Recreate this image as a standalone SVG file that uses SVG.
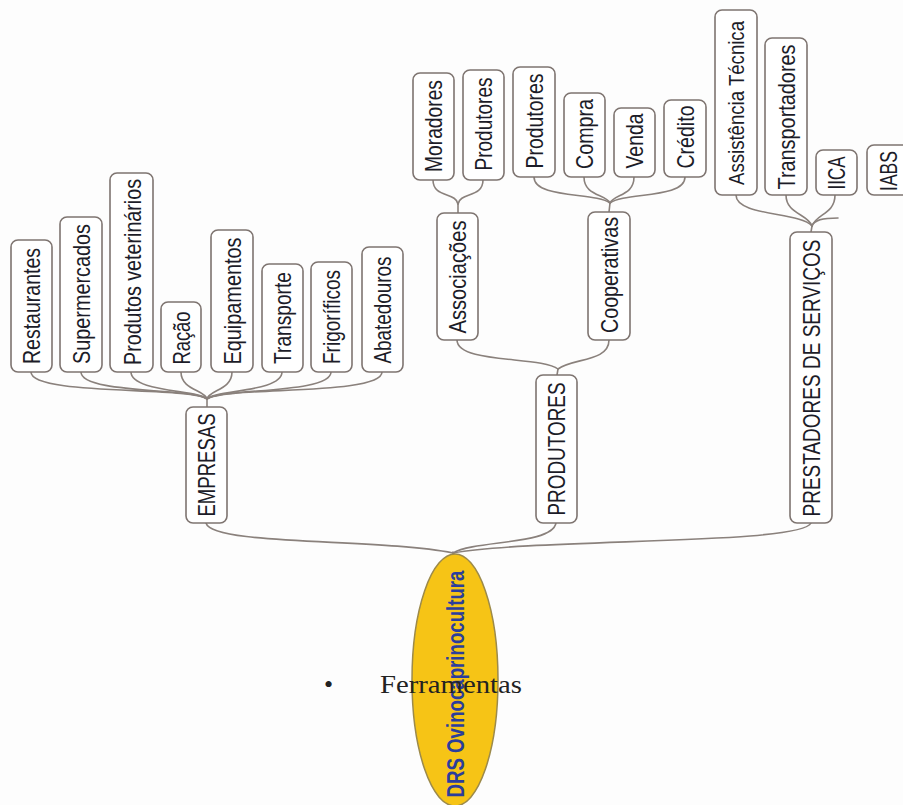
<svg xmlns="http://www.w3.org/2000/svg" width="903" height="805" viewBox="0 0 903 805">
  <style>
    .box { fill: #ffffff; stroke: #7e7470; stroke-width: 1.6; }
    .lbl { font-family: "Liberation Sans Narrow", "Arial Narrow", "Liberation Sans", sans-serif; font-size: 24px; fill: #1c1c28; text-anchor: middle; }
    .link { fill: none; stroke: #8a817c; stroke-width: 1.6; stroke-linecap: round; }
    .root { fill: #f6c416; stroke: #9c8a4a; stroke-width: 1.5; }
    .rootlbl { font-family: "Liberation Sans Narrow", "Arial Narrow", "Liberation Sans", sans-serif; font-size: 24px; font-weight: bold; fill: #2b3d9c; text-anchor: middle; }
    .note { font-family: "Liberation Serif", "Times New Roman", serif; font-size: 26px; fill: #222222; }
  </style>

  <rect width="903" height="805" fill="#fdfdfd"/>

  <!-- connectors -->
  <g id="connectors">
    <!-- root to main branches -->
    <path class="link" d="M206,523 C212,546 380,538 453,553"/>
    <path class="link" d="M556,523 C552,545 475,540 453,553"/>
    <path class="link" d="M811,523 C800,545 540,538 453,553"/>
    <path class="link" d="M453,552 L455,556"/>

    <!-- EMPRESAS children -->
    <path class="link" d="M31,372 C31,396 190,386 207,399"/>
    <path class="link" d="M81,372 C81,394 195,388 207,399"/>
    <path class="link" d="M131,372 C131,392 200,390 207,399"/>
    <path class="link" d="M181,372 C181,390 205,390 207,399"/>
    <path class="link" d="M232,372 C232,390 209,390 207,399"/>
    <path class="link" d="M282,372 C282,392 214,390 207,399"/>
    <path class="link" d="M331,372 C331,394 220,388 207,399"/>
    <path class="link" d="M382,372 C382,396 225,386 207,399"/>
    <path class="link" d="M207,399 L207,407"/>

    <!-- PRODUTORES children -->
    <path class="link" d="M457,340 C457,364 542,356 558,369"/>
    <path class="link" d="M609,340 C609,362 572,358 558,369"/>
    <path class="link" d="M558,369 L557,375"/>

    <!-- Associações children -->
    <path class="link" d="M433,180 C433,198 456,192 458,204"/>
    <path class="link" d="M483,180 C483,198 460,192 458,204"/>
    <path class="link" d="M458,204 L458,213"/>

    <!-- Cooperativas children -->
    <path class="link" d="M534,177 C534,199 596,192 610,203"/>
    <path class="link" d="M584,177 C584,196 606,194 610,203"/>
    <path class="link" d="M634,177 C634,196 614,194 610,203"/>
    <path class="link" d="M685,177 C685,199 624,192 610,203"/>
    <path class="link" d="M610,203 L609,212"/>

    <!-- PRESTADORES DE SERVIÇOS children -->
    <path class="link" d="M736,195 C736,216 800,212 812,226"/>
    <path class="link" d="M786,195 C786,214 808,214 812,226"/>
    <path class="link" d="M835,195 C835,214 816,214 812,226"/>
    <path class="link" d="M838,218 C822,218 814,220 812,226"/>
    <path class="link" d="M812,226 L811,232"/>
  </g>

  <!-- root -->
  <g id="root">
    <ellipse class="root" cx="455" cy="680" rx="43" ry="126"/>
    <text class="rootlbl" transform="translate(464,684) rotate(-90)" textLength="227" lengthAdjust="spacingAndGlyphs">DRS Ovinocaprinocultura</text>
  </g>

  <!-- main branches -->
  <g id="empresas">
    <rect class="box" x="186" y="407" width="41" height="116" rx="7"/>
    <text class="lbl" transform="translate(215,465) rotate(-90)" textLength="103" lengthAdjust="spacingAndGlyphs">EMPRESAS</text>
  </g>
  <g id="produtores">
    <rect class="box" x="536" y="375" width="41" height="148" rx="7"/>
    <text class="lbl" transform="translate(565,449) rotate(-90)" textLength="133" lengthAdjust="spacingAndGlyphs">PRODUTORES</text>
  </g>
  <g id="prestadores">
    <rect class="box" x="790" y="232" width="42" height="291" rx="7"/>
    <text class="lbl" transform="translate(820,378) rotate(-90)" textLength="277" lengthAdjust="spacingAndGlyphs">PRESTADORES DE SERVIÇOS</text>
  </g>

  <!-- EMPRESAS leaves -->
  <g id="restaurantes">
    <rect class="box" x="11" y="240" width="41" height="132" rx="7"/>
    <text class="lbl" transform="translate(40,306) rotate(-90)" textLength="116" lengthAdjust="spacingAndGlyphs">Restaurantes</text>
  </g>
  <g id="supermercados">
    <rect class="box" x="60" y="217" width="42" height="155" rx="7"/>
    <text class="lbl" transform="translate(90,294) rotate(-90)" textLength="140" lengthAdjust="spacingAndGlyphs">Supermercados</text>
  </g>
  <g id="produtos-veterinarios">
    <rect class="box" x="110" y="173" width="43" height="199" rx="7"/>
    <text class="lbl" transform="translate(141,272) rotate(-90)" textLength="186" lengthAdjust="spacingAndGlyphs">Produtos veterinários</text>
  </g>
  <g id="racao">
    <rect class="box" x="161" y="302" width="40" height="70" rx="7"/>
    <text class="lbl" transform="translate(190,338) rotate(-90)" textLength="53" lengthAdjust="spacingAndGlyphs">Ração</text>
  </g>
  <g id="equipamentos">
    <rect class="box" x="211" y="230" width="42" height="142" rx="7"/>
    <text class="lbl" transform="translate(241,301) rotate(-90)" textLength="127" lengthAdjust="spacingAndGlyphs">Equipamentos</text>
  </g>
  <g id="transporte">
    <rect class="box" x="262" y="264" width="41" height="108" rx="7"/>
    <text class="lbl" transform="translate(291,318) rotate(-90)" textLength="92" lengthAdjust="spacingAndGlyphs">Transporte</text>
  </g>
  <g id="frigorificos">
    <rect class="box" x="311" y="262" width="41" height="110" rx="7"/>
    <text class="lbl" transform="translate(340,317) rotate(-90)" textLength="94" lengthAdjust="spacingAndGlyphs">Frigoríficos</text>
  </g>
  <g id="abatedouros">
    <rect class="box" x="362" y="247" width="41" height="125" rx="7"/>
    <text class="lbl" transform="translate(391,310) rotate(-90)" textLength="107" lengthAdjust="spacingAndGlyphs">Abatedouros</text>
  </g>

  <!-- PRODUTORES sub-branches -->
  <g id="associacoes">
    <rect class="box" x="437" y="213" width="41" height="127" rx="7"/>
    <text class="lbl" transform="translate(466,277) rotate(-90)" textLength="113" lengthAdjust="spacingAndGlyphs">Associações</text>
  </g>
  <g id="cooperativas">
    <rect class="box" x="588" y="212" width="42" height="128" rx="7"/>
    <text class="lbl" transform="translate(618,275) rotate(-90)" textLength="116" lengthAdjust="spacingAndGlyphs">Cooperativas</text>
  </g>
  <g id="moradores">
    <rect class="box" x="413" y="73" width="41" height="107" rx="7"/>
    <text class="lbl" transform="translate(442,126) rotate(-90)" textLength="92" lengthAdjust="spacingAndGlyphs">Moradores</text>
  </g>
  <g id="produtores-assoc">
    <rect class="box" x="463" y="70" width="41" height="110" rx="7"/>
    <text class="lbl" transform="translate(492,124) rotate(-90)" textLength="93" lengthAdjust="spacingAndGlyphs">Produtores</text>
  </g>
  <g id="produtores-coop">
    <rect class="box" x="513" y="67" width="42" height="110" rx="7"/>
    <text class="lbl" transform="translate(543,121) rotate(-90)" textLength="95" lengthAdjust="spacingAndGlyphs">Produtores</text>
  </g>
  <g id="compra">
    <rect class="box" x="564" y="93" width="41" height="84" rx="7"/>
    <text class="lbl" transform="translate(593,134) rotate(-90)" textLength="70" lengthAdjust="spacingAndGlyphs">Compra</text>
  </g>
  <g id="venda">
    <rect class="box" x="614" y="108" width="41" height="69" rx="7"/>
    <text class="lbl" transform="translate(643,141) rotate(-90)" textLength="55" lengthAdjust="spacingAndGlyphs">Venda</text>
  </g>
  <g id="credito">
    <rect class="box" x="664" y="100" width="42" height="77" rx="7"/>
    <text class="lbl" transform="translate(694,137) rotate(-90)" textLength="63" lengthAdjust="spacingAndGlyphs">Crédito</text>
  </g>

  <!-- PRESTADORES DE SERVIÇOS leaves -->
  <g id="assistencia-tecnica">
    <rect class="box" x="715" y="10" width="42" height="185" rx="7"/>
    <text class="lbl" style="font-size:22px" transform="translate(744,103) rotate(-90)" textLength="164" lengthAdjust="spacingAndGlyphs">Assistência Técnica</text>
  </g>
  <g id="transportadores">
    <rect class="box" x="765" y="38" width="42" height="157" rx="7"/>
    <text class="lbl" transform="translate(795,117) rotate(-90)" textLength="145" lengthAdjust="spacingAndGlyphs">Transportadores</text>
  </g>
  <g id="iica">
    <rect class="box" x="816" y="150" width="41" height="45" rx="7"/>
    <text class="lbl" transform="translate(845,173) rotate(-90)" textLength="33" lengthAdjust="spacingAndGlyphs">IICA</text>
  </g>
  <g id="iabs">
    <rect class="box" x="867" y="145" width="42" height="50" rx="7"/>
    <text class="lbl" transform="translate(897,171) rotate(-90)" textLength="40" lengthAdjust="spacingAndGlyphs">IABS</text>
  </g>

  <!-- bullet caption -->
  <g id="caption">
    <text class="note" x="324" y="693">•</text>
    <text class="note" x="380" y="693" textLength="142" lengthAdjust="spacingAndGlyphs">Ferramentas</text>
  </g>
</svg>
